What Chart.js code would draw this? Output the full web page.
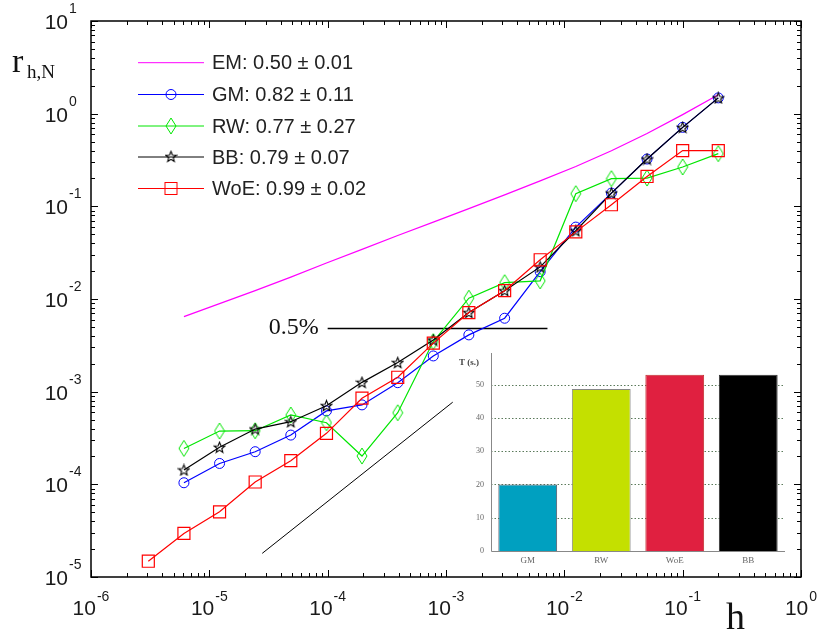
<!DOCTYPE html>
<html>
<head>
<meta charset="utf-8">
<script src="https://cdn.jsdelivr.net/npm/chart.js@4.4.0/dist/chart.umd.min.js"></script>
<style>
  body { margin: 0; background: #fff; }
  #wrap { position: relative; width: 817px; height: 634px; }
  #main { position: absolute; left: 0; top: 0; }
  #inset { position: absolute; left: 440px; top: 340px; }
</style>
</head>
<body>
<div id="wrap">
  <canvas id="main" width="817" height="634"></canvas>
  <canvas id="inset" width="355" height="235"></canvas>
</div>
<script>
// step sizes h (WoE has one extra, smaller step)
const hSteps = [3.05e-6, 6.10e-6, 1.22e-5, 2.44e-5, 4.88e-5, 9.77e-5, 1.95e-4, 3.91e-4,
                7.81e-4, 1.56e-3, 3.13e-3, 6.25e-3, 0.0125, 0.025, 0.05, 0.1, 0.2];

// r_{h,N} per method (EM..BB start at hSteps[1], WoE at hSteps[0])
const emError  = [0.00646, 0.00891, 0.0123, 0.0172, 0.0245, 0.0343, 0.0484, 0.0676,
                  0.0944, 0.133, 0.188, 0.269, 0.398, 0.610, 0.977, 1.60];
const gmError  = [1.04e-4, 1.68e-4, 2.25e-4, 3.40e-4, 6.2e-4, 7.2e-4, 1.25e-3, 2.43e-3,
                  4.1e-3, 6.2e-3, 0.0197, 0.0597, 0.139, 0.324, 0.712, 1.48];
const rwError  = [2.44e-4, 3.76e-4, 3.79e-4, 5.60e-4, 4.62e-4, 2.02e-4, 5.93e-4, 3.47e-3,
                  0.0102, 0.0150, 0.0157, 0.137, 0.199, 0.202, 0.266, 0.37];
const bbError  = [1.43e-4, 2.51e-4, 3.95e-4, 4.74e-4, 7.06e-4, 1.26e-3, 2.06e-3, 3.61e-3,
                  7.14e-3, 0.0123, 0.0222, 0.0545, 0.139, 0.324, 0.712, 1.48];
const woeError = [1.48e-5, 2.95e-5, 5.05e-5, 1.06e-4, 1.80e-4, 3.55e-4, 8.5e-4, 1.43e-3,
                  3.34e-3, 7.14e-3, 0.0123, 0.0265, 0.053, 0.104, 0.210, 0.40, 0.40];

const legendTexts = ['EM: 0.50 \u00b1 0.01', 'GM: 0.82 \u00b1 0.11', 'RW: 0.77 \u00b1 0.27',
                     'BB: 0.79 \u00b1 0.07', 'WoE: 0.99 \u00b1 0.02'];

const xTickExp = [-6, -5, -4, -3, -2, -1, 0];
const yTickExp = [-5, -4, -3, -2, -1, 0, 1];

// 0.5% level and slope-1 guide
const markLineH = [1e-4, 7.2e-3];
const markLineR = [0.0048, 0.0048];
const slopeLineH = [2.8e-5, 1.14e-3];
const slopeLineR = [1.8e-5, 7.7e-4];

// inset: run time
const solverNames = ['GM', 'RW', 'WoE', 'BB'];
const solverTimes = [20, 48.7, 53, 53];
const timeTicks = [0, 10, 20, 30, 40, 50];

function pts(hs, vals) {
  return vals.map((v, i) => ({x: hs[i], y: v}));
}

// marker images
function makeDiamond() {
  const c = document.createElement('canvas');
  c.width = 12; c.height = 18;
  const g = c.getContext('2d');
  g.strokeStyle = '#00e600'; g.lineWidth = 1;
  g.beginPath();
  g.moveTo(6, 1); g.lineTo(11, 9); g.lineTo(6, 17); g.lineTo(1, 9); g.closePath();
  g.stroke();
  return c;
}
function makeStar() {
  const c = document.createElement('canvas');
  c.width = 13; c.height = 13;
  const g = c.getContext('2d');
  g.strokeStyle = '#000'; g.lineWidth = 1.1;
  g.beginPath();
  for (let i = 0; i < 10; i++) {
    const r = i % 2 === 0 ? 5.6 : 2.4;
    const a = -Math.PI / 2 + i * Math.PI / 5;
    const px = 6.5 + r * Math.cos(a), py = 7 + r * Math.sin(a);
    if (i === 0) g.moveTo(px, py); else g.lineTo(px, py);
  }
  g.closePath();
  g.stroke();
  return c;
}
const diamondImg = makeDiamond();
const starImg = makeStar();

const lineColors = ['#ff00ff', '#0000ff', '#00e600', '#000000', '#ff0000'];

function supText(ctx, base, exp, x, y, align, baseFont, expFont, expRise) {
  ctx.font = baseFont;
  const wb = ctx.measureText(base).width;
  ctx.font = expFont;
  const we = ctx.measureText(exp).width;
  let x0 = x;
  if (align === 'center') x0 = x - (wb + we + 1) / 2;
  if (align === 'rightbase') x0 = x - wb;
  ctx.textAlign = 'left';
  ctx.textBaseline = 'alphabetic';
  ctx.font = baseFont;
  ctx.fillText(base, x0, y);
  ctx.font = expFont;
  ctx.fillText(exp, x0 + wb + 1, y - expRise);
}

const framePlugin = {
  id: 'framePlugin',
  afterDraw(chart) {
    const {ctx, chartArea: a, scales: {x, y}} = chart;
    ctx.save();
    ctx.strokeStyle = '#000';
    ctx.lineWidth = 1.5;
    ctx.strokeRect(a.left, a.top, a.right - a.left, a.bottom - a.top);
    ctx.lineWidth = 1;
    ctx.beginPath();
    for (let e = -6; e <= 0; e++) {
      for (let m = 1; m <= 9; m++) {
        if (e === 0 && m > 1) break;
        const px = Math.round(x.getPixelForValue(m * Math.pow(10, e))) + 0.5;
        const len = m === 1 ? 7 : 4;
        ctx.moveTo(px, a.bottom); ctx.lineTo(px, a.bottom - len);
        ctx.moveTo(px, a.top); ctx.lineTo(px, a.top + len);
      }
    }
    for (let e = -5; e <= 1; e++) {
      for (let m = 1; m <= 9; m++) {
        if (e === 1 && m > 1) break;
        const py = Math.round(y.getPixelForValue(m * Math.pow(10, e))) + 0.5;
        const len = m === 1 ? 7 : 4;
        ctx.moveTo(a.left, py); ctx.lineTo(a.left + len, py);
        ctx.moveTo(a.right, py); ctx.lineTo(a.right - len, py);
      }
    }
    ctx.stroke();

    // tick labels
    ctx.fillStyle = '#1a1a1a';
    xTickExp.forEach(e => {
      const px = x.getPixelForValue(Math.pow(10, e));
      supText(ctx, '10', String(e), px, a.bottom + 38, 'center',
              '21px "Liberation Sans", Arial', '14px "Liberation Sans", Arial', 14);
    });
    yTickExp.forEach(e => {
      const py = y.getPixelForValue(Math.pow(10, e));
      supText(ctx, '10', String(e), 68, py + 8, 'rightbase',
              '21px "Liberation Sans", Arial', '14px "Liberation Sans", Arial', 16);
    });

    // axis titles
    ctx.fillStyle = '#111';
    ctx.textAlign = 'left';
    ctx.font = '34px "Liberation Serif", "Times New Roman", serif';
    ctx.fillText('r', 12, 72);
    ctx.font = '19px "Liberation Serif", "Times New Roman", serif';
    ctx.fillText('h,N', 27, 78);
    ctx.font = '38px "Liberation Serif", "Times New Roman", serif';
    ctx.fillText('h', 726, 629);

    // 0.5% label
    ctx.font = '24px "Liberation Serif", "Times New Roman", serif';
    ctx.textAlign = 'right';
    ctx.fillText('0.5%', x.getPixelForValue(markLineH[0]) - 9, y.getPixelForValue(markLineR[0]) + 5);

    // legend
    const rowY = [62.7, 94.5, 126, 157, 188.5];
    ctx.font = '20px "Liberation Sans", Arial';
    ctx.textAlign = 'left';
    ctx.textBaseline = 'middle';
    legendTexts.forEach((t, i) => {
      const yy = rowY[i];
      ctx.strokeStyle = lineColors[i];
      ctx.lineWidth = 1;
      ctx.beginPath();
      ctx.moveTo(138, yy); ctx.lineTo(204, yy);
      ctx.stroke();
      if (i === 1) { ctx.beginPath(); ctx.arc(171, yy, 5, 0, 2 * Math.PI); ctx.stroke(); }
      if (i === 2) ctx.drawImage(diamondImg, 165, yy - 9);
      if (i === 3) ctx.drawImage(starImg, 164.5, yy - 7);
      if (i === 4) ctx.strokeRect(165, yy - 6, 12, 12);
      ctx.fillStyle = '#222';
      ctx.fillText(t, 212, yy + 1);
    });
    ctx.restore();
  }
};

new Chart(document.getElementById('main'), {
  type: 'line',
  data: {
    datasets: [
      {label: 'EM', data: pts(hSteps.slice(1), emError), borderColor: lineColors[0],
       borderWidth: 1.2, pointRadius: 0, order: 5},
      {label: 'GM', data: pts(hSteps.slice(1), gmError), borderColor: lineColors[1],
       borderWidth: 1.2, pointStyle: 'circle', pointRadius: 5, pointBorderWidth: 1,
       pointBorderColor: lineColors[1], pointBackgroundColor: 'rgba(0,0,0,0)', order: 4},
      {label: 'RW', data: pts(hSteps.slice(1), rwError), borderColor: lineColors[2],
       borderWidth: 1.2, pointStyle: diamondImg, pointRadius: 6, order: 3},
      {label: 'BB', data: pts(hSteps.slice(1), bbError), borderColor: lineColors[3],
       borderWidth: 1.2, pointStyle: starImg, pointRadius: 6, order: 2},
      {label: 'WoE', data: pts(hSteps, woeError), borderColor: lineColors[4],
       borderWidth: 1.2, pointStyle: 'rect', pointRadius: 8.5, pointBorderWidth: 1.2,
       pointBorderColor: lineColors[4], pointBackgroundColor: 'rgba(0,0,0,0)', order: 1},
      {label: 'mark', data: pts(markLineH, markLineR), borderColor: '#000',
       borderWidth: 1.6, pointRadius: 0, order: 6},
      {label: 'slope', data: pts(slopeLineH, slopeLineR), borderColor: '#000',
       borderWidth: 1, pointRadius: 0, order: 7}
    ]
  },
  options: {
    responsive: false,
    animation: false,
    layout: {padding: {left: 91, right: 16, top: 21, bottom: 57}},
    plugins: {legend: {display: false}, tooltip: {enabled: false}},
    scales: {
      x: {type: 'logarithmic', min: 1e-6, max: 1, display: false},
      y: {type: 'logarithmic', min: 1e-5, max: 10, display: false}
    }
  },
  plugins: [framePlugin]
});

// inset bar chart
const insetPlugin = {
  id: 'insetPlugin',
  beforeDatasetsDraw(chart) {
    const {ctx, chartArea: a, scales: {y}} = chart;
    ctx.save();
    ctx.strokeStyle = '#5b7a5b';
    ctx.lineWidth = 1;
    ctx.setLineDash([1.5, 2]);
    ctx.beginPath();
    timeTicks.slice(1).forEach(t => {
      const py = Math.round(y.getPixelForValue(t)) + 0.5;
      ctx.moveTo(a.left, py); ctx.lineTo(a.right, py);
    });
    ctx.stroke();
    ctx.setLineDash([]);
    ctx.strokeStyle = '#888';
    ctx.beginPath();
    ctx.moveTo(a.left + 0.5, a.top); ctx.lineTo(a.left + 0.5, a.bottom + 0.5);
    ctx.lineTo(a.right, a.bottom + 0.5);
    ctx.stroke();
    ctx.restore();
  },
  afterDraw(chart) {
    const {ctx, chartArea: a, scales: {x, y}} = chart;
    ctx.save();
    ctx.fillStyle = '#666';
    ctx.font = '8px "Liberation Serif", serif';
    ctx.textAlign = 'right';
    ctx.textBaseline = 'middle';
    timeTicks.forEach(t => ctx.fillText(String(t), a.left - 7, y.getPixelForValue(t)));
    ctx.textAlign = 'center';
    ctx.font = '9px "Liberation Serif", serif';
    solverNames.forEach((n, i) => ctx.fillText(n, x.getPixelForValue(i), a.bottom + 10));
    ctx.fillStyle = '#444';
    ctx.font = 'bold 9px "Liberation Serif", serif';
    ctx.textAlign = 'left';
    ctx.fillText('T (s.)', a.left - 32, a.top + 10);
    ctx.restore();
  }
};

new Chart(document.getElementById('inset'), {
  type: 'bar',
  data: {
    labels: solverNames,
    datasets: [{
      data: solverTimes,
      backgroundColor: ['#00a0c0', '#c4e000', '#e02040', '#000000'],
      borderColor: ['#556', '#888', '#c03030', '#333'],
      borderWidth: 1,
      categoryPercentage: 0.8,
      barPercentage: 1
    }]
  },
  options: {
    responsive: false,
    animation: false,
    layout: {padding: {left: 51, right: 10, top: 13, bottom: 24}},
    plugins: {legend: {display: false}, tooltip: {enabled: false}},
    scales: {
      x: {display: false},
      y: {display: false, min: 0, max: 59.5}
    }
  },
  plugins: [insetPlugin]
});
</script>
</body>
</html>
